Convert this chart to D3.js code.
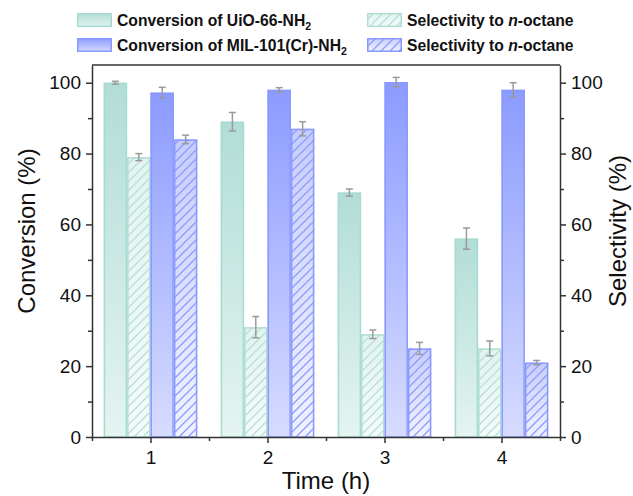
<!DOCTYPE html>
<html>
<head>
<meta charset="utf-8">
<script src="https://cdn.jsdelivr.net/npm/d3@7"></script>
<style>
  body { margin: 0; background: #fff; }
  text { font-family: Arial, "Liberation Sans", sans-serif; }
</style>
</head>
<body>
<script>
// données
const times = [1, 2, 3, 4];
const uioConv = [100, 89, 69, 56];
const uioConvErr = [0.4, 2.6, 1, 3];
const uioSel = [79, 31, 29, 25];
const uioSelErr = [1, 3, 1.2, 2.1];
const milConv = [97.2, 98, 100.2, 98];
const milConvErr = [1.5, 0.6, 1.3, 2];
const milSel = [84, 87, 25, 21];
const milSelErr = [1.2, 2, 1.7, 0.6];
const yTicks = [0, 20, 40, 60, 80, 100];

const W = 633, H = 496;
let margin = { top: 65, right: 73, bottom: 59, left: 92 };
let width = W - margin.left - margin.right,
    height = H - margin.top - margin.bottom;

let svg = d3.select("body").append("svg")
    .attr("width", W).attr("height", H);

let defs = svg.append("defs");

function grad(id, top, bottom) {
    let g = defs.append("linearGradient").attr("id", id)
        .attr("x1", 0).attr("y1", 0).attr("x2", 0).attr("y2", 1);
    g.append("stop").attr("offset", "0%").attr("stop-color", top);
    g.append("stop").attr("offset", "100%").attr("stop-color", bottom);
}
grad("gUioConv", "#b2ddd6", "#e4f4f1");
grad("gMilConv", "#8b9bff", "#d7dcff");
grad("gUioSel", "#e3f3f0", "#f5fbfa");
grad("gMilSel", "#c6cdfb", "#f1f2ff");

function hatch(id, color) {
    let p = defs.append("pattern").attr("id", id)
        .attr("patternUnits", "userSpaceOnUse")
        .attr("width", 9).attr("height", 9);
    p.append("path")
        .attr("d", "M-2,2 L2,-2 M0,9 L9,0 M7,11 L11,7")
        .attr("stroke", color).attr("stroke-width", 1.3);
}
hatch("hUio", "#b4e0d8");
hatch("hMil", "#8d9bff");

let g = svg.append("g")
    .attr("transform", "translate(" + margin.left + "," + margin.top + ")");

// échelles
let x = d3.scaleLinear().domain([0.5, 4.5]).range([0, width]);
let y = d3.scaleLinear().domain([0, 105]).range([height, 0]);
let bw = x(1.2) - x(1);

const series = [
    { vals: uioConv, err: uioConvErr, off: -0.4, fill: "url(#gUioConv)", stroke: "#a7dbd2" },
    { vals: uioSel, err: uioSelErr, off: -0.2, fill: "url(#gUioSel)", hatch: "url(#hUio)", stroke: "#b0dfd6" },
    { vals: milConv, err: milConvErr, off: 0, fill: "url(#gMilConv)", stroke: "#8a99ff" },
    { vals: milSel, err: milSelErr, off: 0.2, fill: "url(#gMilSel)", hatch: "url(#hMil)", stroke: "#8a99ff" }
];

series.forEach(s => {
    let data = times.map((t, i) => ({ t: t, v: s.vals[i], e: s.err[i] }));
    g.selectAll(null).data(data).enter().append("rect")
        .attr("x", d => x(d.t + s.off))
        .attr("y", d => y(d.v))
        .attr("width", bw)
        .attr("height", d => y(0) - y(d.v))
        .attr("fill", s.fill);
    if (s.hatch) {
        g.selectAll(null).data(data).enter().append("rect")
            .attr("x", d => x(d.t + s.off))
            .attr("y", d => y(d.v))
            .attr("width", bw)
            .attr("height", d => y(0) - y(d.v))
            .attr("fill", s.hatch);
    }
    g.selectAll(null).data(data).enter().append("rect")
        .attr("x", d => x(d.t + s.off) + 0.75)
        .attr("y", d => y(d.v) + 0.75)
        .attr("width", bw - 1.5)
        .attr("height", d => y(0) - y(d.v) - 0.75)
        .attr("fill", "none")
        .attr("stroke", s.stroke)
        .attr("stroke-width", 1.5);
    // barres d'erreur
    let eb = g.selectAll(null).data(data).enter().append("g")
        .attr("stroke", "#9a9a9a").attr("stroke-width", 1.5);
    eb.append("line")
        .attr("x1", d => x(d.t + s.off) + bw / 2).attr("x2", d => x(d.t + s.off) + bw / 2)
        .attr("y1", d => y(d.v + d.e)).attr("y2", d => y(d.v - d.e));
    eb.append("line")
        .attr("x1", d => x(d.t + s.off) + bw / 2 - 3.5).attr("x2", d => x(d.t + s.off) + bw / 2 + 3.5)
        .attr("y1", d => y(d.v + d.e)).attr("y2", d => y(d.v + d.e));
    eb.append("line")
        .attr("x1", d => x(d.t + s.off) + bw / 2 - 3.5).attr("x2", d => x(d.t + s.off) + bw / 2 + 3.5)
        .attr("y1", d => y(d.v - d.e)).attr("y2", d => y(d.v - d.e));
});

// axes
const axisColor = "#333";
function styleAxis(sel) {
    sel.select(".domain").attr("stroke", axisColor).attr("stroke-width", 1.5);
    sel.selectAll(".tick line").attr("stroke", axisColor).attr("stroke-width", 1.5);
    sel.selectAll("text").style("font-size", "19px").attr("fill", "#111")
        .style("font-family", "Arial, 'Liberation Sans', sans-serif");
}

// ticks mineurs
let minorY = d3.range(10, 101, 20);
g.append("g").attr("class", "minor")
    .call(d3.axisLeft(y).tickValues(minorY).tickSize(4).tickFormat(""))
    .call(sel => { sel.select(".domain").remove(); sel.selectAll("line").attr("stroke", axisColor).attr("stroke-width", 1.5); });
g.append("g").attr("transform", "translate(" + width + ",0)")
    .call(d3.axisRight(y).tickValues(minorY).tickSize(4).tickFormat(""))
    .call(sel => { sel.select(".domain").remove(); sel.selectAll("line").attr("stroke", axisColor).attr("stroke-width", 1.5); });
g.append("g").attr("transform", "translate(0," + height + ")")
    .call(d3.axisBottom(x).tickValues([0.5, 1.5, 2.5, 3.5, 4.5]).tickSize(4).tickFormat(""))
    .call(sel => { sel.select(".domain").remove(); sel.selectAll("line").attr("stroke", axisColor).attr("stroke-width", 1.5); });

g.append("g")
    .call(d3.axisLeft(y).tickValues(yTicks).tickSize(6).tickSizeOuter(0).tickPadding(5))
    .call(styleAxis);
g.append("g").attr("transform", "translate(" + width + ",0)")
    .call(d3.axisRight(y).tickValues(yTicks).tickSize(6).tickSizeOuter(0).tickPadding(5))
    .call(styleAxis);
g.append("g").attr("transform", "translate(0," + height + ")")
    .call(d3.axisBottom(x).tickValues(times).tickFormat(d3.format("d")).tickSize(6).tickSizeOuter(0).tickPadding(8))
    .call(styleAxis);
g.append("line")
    .attr("x1", 0).attr("x2", width).attr("y1", 0).attr("y2", 0)
    .attr("stroke", axisColor).attr("stroke-width", 1.5);

// titres des axes
g.append("text")
    .text("Time (h)")
    .attr("text-anchor", "middle")
    .attr("x", width / 2).attr("y", height + 52)
    .style("font-size", "24px").attr("fill", "#111");
g.append("text")
    .text("Conversion (%)")
    .attr("text-anchor", "middle")
    .attr("transform", "translate(-57," + (height / 2 - 20) + ") rotate(-90)")
    .style("font-size", "24px").attr("fill", "#111");
g.append("text")
    .text("Selectivity (%)")
    .attr("text-anchor", "middle")
    .attr("transform", "translate(" + (width + 66) + "," + (height / 2 - 20) + ") rotate(-90)")
    .style("font-size", "24px").attr("fill", "#111");

// légende
const legend = [
    { x: 77, y: 13, fill: "url(#gUioConv)", stroke: "#a7dbd2", label: ["Conversion of UiO-66-NH", "2"] },
    { x: 77, y: 38, fill: "url(#gMilConv)", stroke: "#8a99ff", label: ["Conversion of MIL-101(Cr)-NH", "2"] },
    { x: 367, y: 13, fill: "url(#gUioSel)", hatch: "url(#hUio)", stroke: "#b0dfd6", label: ["Selectivity to ", "n", "-octane"] },
    { x: 367, y: 38, fill: "url(#gMilSel)", hatch: "url(#hMil)", stroke: "#8a99ff", label: ["Selectivity to ", "n", "-octane"] }
];
legend.forEach(l => {
    svg.append("rect").attr("x", l.x).attr("y", l.y).attr("width", 35).attr("height", 14).attr("fill", l.fill);
    if (l.hatch) svg.append("rect").attr("x", l.x).attr("y", l.y).attr("width", 35).attr("height", 14).attr("fill", l.hatch);
    svg.append("rect").attr("x", l.x + 0.75).attr("y", l.y + 0.75).attr("width", 33.5).attr("height", 12.5)
        .attr("fill", "none").attr("stroke", l.stroke).attr("stroke-width", 1.5);
    let t = svg.append("text").attr("x", l.x + 40).attr("y", l.y + 13)
        .style("font-size", "15.7px").style("font-weight", "bold").attr("fill", "#111");
    if (l.label.length === 2) {
        t.append("tspan").text(l.label[0]);
        t.append("tspan").text(l.label[1]).attr("dy", 4).style("font-size", "10.5px");
    } else {
        t.append("tspan").text(l.label[0]);
        t.append("tspan").text(l.label[1]).style("font-style", "italic");
        t.append("tspan").text(l.label[2]);
    }
});
</script>
</body>
</html>
